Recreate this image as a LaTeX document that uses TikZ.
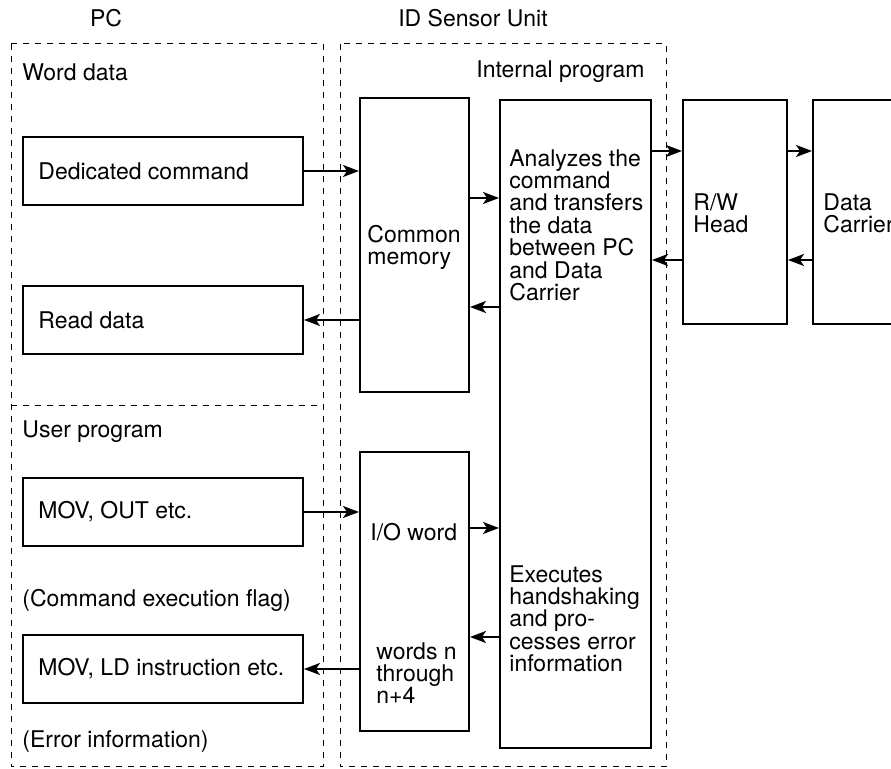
\documentclass[tikz,border=0pt]{standalone}
\usepackage{fontspec}
\setmainfont{TeX Gyre Heros}
\usetikzlibrary{arrows.meta}

\tikzset{
  txt/.style={inner sep=0pt, align=left, font=\fontsize{11.5}{11.2}\selectfont},
  blk/.style={draw, line width=1pt, anchor=north west, inner sep=0pt},
  pcbox/.style={blk, minimum width=140pt, minimum height=34pt},
  frame/.style={line width=0.5pt, dash pattern=on 3pt off 3pt},
  arr/.style={-{Stealth[length=8pt,width=6pt,inset=2pt]}, line width=1pt},
}

\begin{document}
\begin{tikzpicture}[x=0.5pt,y=-0.5pt]
	\useasboundingbox (0,0) rectangle (891,769);
	% frames
	\draw[frame] (11,44) rectangle (323,767);
	\draw[frame] (11,406) -- (323,406);
	\draw[frame] (340,44) rectangle (666,767);
	\node[txt] (pc) at (106,18) {PC};
	\node[txt] (idu) at (473,18) {ID Sensor Unit};
	\node[txt,anchor=west] (word) at (22,72) {Word data};
	\node[txt,anchor=east] (intprog) at (645,72) {Internal program};
	\node[txt,anchor=west] (user) at (22,432) {User program};
	\node[txt,anchor=west] (flag) at (22,600) {(Command execution flag)};
	\node[txt,anchor=west] (err) at (22,742) {(Error information)};
	% PC side
	\node[pcbox] (cmd) at (22,136) {};
	\node[txt,anchor=west] (cmdtxt) at ([xshift=8pt]cmd.west) {Dedicated command};
	\node[pcbox] (read) at (22,285) {};
	\node[txt,anchor=west] (readtxt) at ([xshift=8pt]read.west) {Read data};
	\node[pcbox] (mov) at (22,477) {};
	\node[txt,anchor=west] (movtxt) at ([xshift=8pt]mov.west) {MOV, OUT etc.};
	\node[pcbox] (ld) at (22,634) {};
	\node[txt,anchor=west] (ldtxt) at ([xshift=8pt]ld.west) {MOV, LD instruction etc.};
	% ID Sensor Unit side
	\node[blk, minimum width=54.5pt, minimum height=147pt] (mem) at (359,97) {};
	\node[txt,anchor=north west] (memtxt) at (367,225) {Common\\memory};
	\node[blk, minimum width=54.5pt, minimum height=139.5pt] (io) at (359,451) {};
	\node[txt,anchor=north west] (iotxt) at (370,523) {I/O word};
	\node[txt,anchor=north west] (wordstxt) at (376,642) {words n\\through\\n+4};
	\node[blk, minimum width=75.5pt, minimum height=324pt] (prog) at (499,99) {};
	\node[txt,anchor=north west] (analyze) at (509,149) {Analyzes the\\command\\and transfers\\the data\\between PC\\and Data\\Carrier};
	\node[txt,anchor=north west] (execute) at (509,565) {Executes\\handshaking\\and pro-\\cesses error\\information};
	\node[blk, minimum width=52pt, minimum height=112pt] (rw) at (682,99) {};
	\node[txt,anchor=north west] (rwtxt) at (693,193) {R/W\\Head};
	\node[blk, minimum width=50pt, minimum height=112pt] (dc) at (812,99) {};
	\node[txt,anchor=north west] (dctxt) at (823,193) {Data\\Carrier};
	% connectors
	\draw[arr] (cmd.east) -- (cmd.east -| mem.west);
	\draw[arr] (read.east -| mem.west) -- (read.east);
	\draw[arr] (mem.east |- 0,198) -- (prog.west |- 0,198);
	\draw[arr] (prog.west |- 0,307) -- (mem.east |- 0,307);
	\draw[arr] (prog.east |- 0,151) -- (rw.west |- 0,151);
	\draw[arr] (rw.west |- 0,260) -- (prog.east |- 0,260);
	\draw[arr] (rw.east |- 0,151) -- (dc.west |- 0,151);
	\draw[arr] (dc.west |- 0,260) -- (rw.east |- 0,260);
	\draw[arr] (mov.east) -- (mov.east -| io.west);
	\draw[arr] (ld.east -| io.west) -- (ld.east);
	\draw[arr] (io.east |- 0,528) -- (prog.west |- 0,528);
	\draw[arr] (prog.west |- 0,637) -- (io.east |- 0,637);
\end{tikzpicture}
\end{document}
